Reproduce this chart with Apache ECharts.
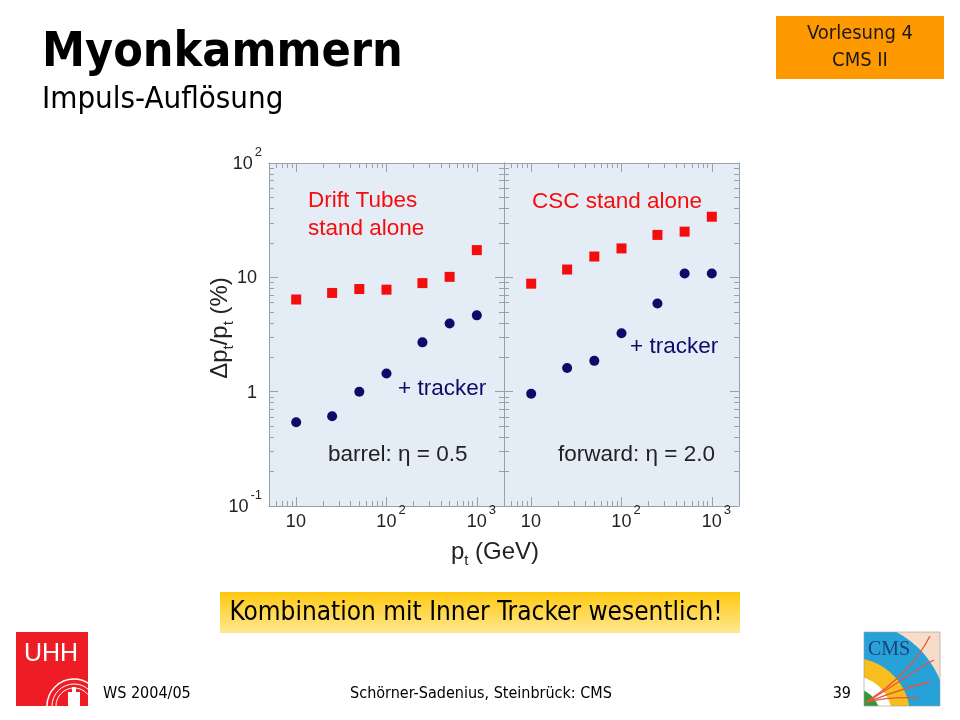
<!DOCTYPE html>
<html>
<head>
<meta charset="utf-8">
<script src="https://cdn.jsdelivr.net/npm/echarts@6/dist/echarts.min.js"></script>
<style>
html,body{margin:0;padding:0;background:#fff;}
#c{width:960px;height:720px;}
</style>
</head>
<body>
<div id="c"></div>
<script>
// ---- data ----
const ptValues = [10, 25, 50, 100, 250, 500, 1000];
const barrelStandalone = [6.4, 7.3, 7.9, 7.8, 8.9, 10.1, 17.3];
const barrelTracker = [0.54, 0.61, 1.0, 1.44, 2.7, 3.95, 4.65];
const forwardStandalone = [8.8, 11.7, 15.2, 17.9, 23.5, 25.1, 33.9];
const forwardTracker = [0.96, 1.61, 1.86, 3.24, 5.9, 10.8, 10.8];
const xRange = [5, 2000];
const yRange = [0.1, 100];

const pair = (xs, ys) => xs.map((x, i) => [x, ys[i]]);

const RED = '#f50d0d';
const NAVY = '#0b0b68';
const AXIS_GRAY = '#98a0a8';
const PLOT_BG = '#e4ecf5';
const FONT = 'Liberation Sans, Arial, sans-serif';
const SLIDE_FONT = 'DejaVu Sans Condensed, DejaVu Sans, sans-serif';

function powInfo(v) {
  const l = Math.log10(v);
  const e = Math.round(l);
  if (Math.abs(l - e) > 1e-6) return null;
  return e;
}
const labelRich = {
  b: {fontSize: 18, lineHeight: 20, verticalAlign: 'bottom', color: '#222', fontFamily: FONT},
  sup: {fontSize: 13, lineHeight: 13, verticalAlign: 'bottom', padding: [0, 0, 14, 2], color: '#222', fontFamily: FONT},
  sp: {fontSize: 13, width: 9, lineHeight: 13, verticalAlign: 'bottom', padding: [0, 0, 14, 0]},
  spb: {fontSize: 13, width: 5, lineHeight: 13, verticalAlign: 'bottom', padding: [0, 0, 14, 0]},
  sp2: {fontSize: 18, width: 5, lineHeight: 20, verticalAlign: 'bottom'}
};
function xLabel(v) {
  const e = powInfo(v);
  if (e === null) return '';
  if (e === 0) return '{spb| }{b|1}{sup| }';
  if (e === 1) return '{spb| }{b|10}{sup| }';
  return '{sp| }{b|10}{sup|' + e + '}';
}
function yLabel(v) {
  const e = powInfo(v);
  if (e === null) return '';
  if (e === 0) return '{b|1}{sp2| }';
  if (e === 1) return '{b|10}{sp2| }';
  return '{b|10}{sup|' + e + '}';
}

const common = {
  type: 'log', logBase: 10,
  axisLine: {show: true, lineStyle: {color: AXIS_GRAY, width: 1}},
  axisTick: {show: true, inside: true, length: 9, lineStyle: {color: AXIS_GRAY}},
  minorTick: {show: true, splitNumber: 9, length: 5, lineStyle: {color: AXIS_GRAY}},
  splitLine: {show: false},
  minorSplitLine: {show: false}
};
function xAx(grid, pos, labels) {
  return Object.assign({}, common, {
    gridIndex: grid, position: pos, min: xRange[0], max: xRange[1],
    axisLabel: {show: labels, formatter: xLabel, rich: labelRich, margin: 5,
      showMinLabel: false, showMaxLabel: false}
  });
}
function yAx(grid, pos, labels) {
  return Object.assign({}, common, {
    gridIndex: grid, position: pos, min: yRange[0], max: yRange[1],
    axisLabel: {show: labels, formatter: yLabel, rich: labelRich, margin: 7}
  });
}

// CMS logo bands: arc polygons clamped into the logo box
const LOGO = {x0: 864, y0: 632, x1: 940, y1: 706, cx: 852, cy: 716};
function bandPolygon(r) {
  const pts = [];
  for (let i = 0; i <= 60; i++) {
    const a = (-110 + i * 125 / 60) * Math.PI / 180;
    let px = LOGO.cx + r * Math.cos(a), py = LOGO.cy + r * Math.sin(a);
    px = Math.min(Math.max(px, LOGO.x0), LOGO.x1);
    py = Math.min(Math.max(py, LOGO.y0), LOGO.y1);
    pts.push([px, py]);
  }
  pts.push([LOGO.x0, LOGO.y1]);
  return pts;
}
const cmsBands = [[95, '#27a2d9'], [58, '#f7be1e'], [40, '#ffffff'], [28, '#2e9a3e']];

const sub = {
  b: {fontSize: 24, lineHeight: 28, verticalAlign: 'bottom', padding: [0, 0, 4, 0], fontFamily: FONT, fill: '#222'},
  s: {fontSize: 15, lineHeight: 15, verticalAlign: 'bottom', fontFamily: FONT, fill: '#222'}
};

const option = {
  backgroundColor: '#ffffff',
  animation: false,
  grid: [
    {left: 269, top: 163, width: 235, height: 343, show: true, backgroundColor: PLOT_BG, borderWidth: 0},
    {left: 504, top: 163, width: 235, height: 343, show: true, backgroundColor: PLOT_BG, borderWidth: 0}
  ],
  xAxis: [xAx(0, 'bottom', true), xAx(1, 'bottom', true), xAx(0, 'top', false), xAx(1, 'top', false)],
  yAxis: [yAx(0, 'left', true), yAx(1, 'left', false), yAx(0, 'right', false), yAx(1, 'right', false)],
  series: [
    {name: 'Drift Tubes stand alone', type: 'scatter', xAxisIndex: 0, yAxisIndex: 0,
      symbol: 'rect', symbolSize: 10, itemStyle: {color: RED, opacity: 1}, data: pair(ptValues, barrelStandalone)},
    {name: 'barrel + tracker', type: 'scatter', xAxisIndex: 0, yAxisIndex: 0,
      symbol: 'circle', symbolSize: 10, itemStyle: {color: NAVY, opacity: 1}, data: pair(ptValues, barrelTracker)},
    {name: 'CSC stand alone', type: 'scatter', xAxisIndex: 1, yAxisIndex: 1,
      symbol: 'rect', symbolSize: 10, itemStyle: {color: RED, opacity: 1}, data: pair(ptValues, forwardStandalone)},
    {name: 'forward + tracker', type: 'scatter', xAxisIndex: 1, yAxisIndex: 1,
      symbol: 'circle', symbolSize: 10, itemStyle: {color: NAVY, opacity: 1}, data: pair(ptValues, forwardTracker)}
  ],
  graphic: [
    // slide header
    {type: 'text', left: 42, top: 30, style: {text: 'Myonkammern', fontFamily: SLIDE_FONT, fontWeight: 'bold', fontSize: 48, fill: '#000'}},
    {type: 'text', left: 42, top: 84, style: {text: 'Impuls-Auflösung', fontFamily: SLIDE_FONT, fontSize: 31, fill: '#000'}},
    {type: 'rect', shape: {x: 776, y: 16, width: 168, height: 63}, style: {fill: '#ff9900'}},
    {type: 'text', x: 860, y: 47, style: {text: 'Vorlesung 4\nCMS II', align: 'center', verticalAlign: 'middle', lineHeight: 27, fontFamily: SLIDE_FONT, fontSize: 20, fill: '#1a1a1a'}},
    // in-plot annotations
    {type: 'text', x: 308, y: 215, style: {text: 'Drift Tubes\nstand alone', verticalAlign: 'middle', lineHeight: 28, fontFamily: FONT, fontSize: 22.5, fill: RED}},
    {type: 'text', x: 398, y: 389, style: {text: '+ tracker', verticalAlign: 'middle', fontFamily: FONT, fontSize: 22.5, fill: NAVY}},
    {type: 'text', x: 328, y: 455, style: {text: 'barrel: η = 0.5', verticalAlign: 'middle', fontFamily: FONT, fontSize: 22.5, fill: '#222'}},
    {type: 'text', x: 532, y: 202, style: {text: 'CSC stand alone', verticalAlign: 'middle', fontFamily: FONT, fontSize: 22.5, fill: RED}},
    {type: 'text', x: 630, y: 347, style: {text: '+ tracker', verticalAlign: 'middle', fontFamily: FONT, fontSize: 22.5, fill: NAVY}},
    {type: 'text', x: 558, y: 455, style: {text: 'forward: η = 2.0', verticalAlign: 'middle', fontFamily: FONT, fontSize: 22.5, fill: '#222'}},
    // axis titles
    {type: 'text', x: 222, y: 328, rotation: Math.PI / 2, style: {
      text: '{b|Δp}{s|t}{b|/p}{s|t}{b| (%)}', align: 'center', verticalAlign: 'middle', rich: sub}},
    {type: 'text', x: 495, y: 554, style: {
      text: '{b|p}{s|t}{b| (GeV)}', align: 'center', verticalAlign: 'middle', rich: sub}},
    // footer banner
    {type: 'rect', shape: {x: 220, y: 592, width: 520, height: 41}, style: {
      fill: {type: 'linear', x: 0, y: 0, x2: 0, y2: 1, colorStops: [{offset: 0, color: '#ffc80f'}, {offset: 1, color: '#ffe890'}]}}},
    {type: 'text', x: 476, y: 613, style: {text: 'Kombination mit Inner Tracker wesentlich!', align: 'center', verticalAlign: 'middle', fontFamily: SLIDE_FONT, fontSize: 26, fill: '#000'}},
    {type: 'text', x: 103, y: 694, style: {text: 'WS 2004/05', verticalAlign: 'middle', fontFamily: SLIDE_FONT, fontSize: 16, fill: '#000'}},
    {type: 'text', x: 481, y: 694, style: {text: 'Schörner-Sadenius, Steinbrück: CMS', align: 'center', verticalAlign: 'middle', fontFamily: SLIDE_FONT, fontSize: 16, fill: '#000'}},
    {type: 'text', x: 851, y: 694, style: {text: '39', align: 'right', verticalAlign: 'middle', fontFamily: SLIDE_FONT, fontSize: 16, fill: '#000'}},
    // UHH logo
    {type: 'rect', shape: {x: 16, y: 632, width: 72, height: 74}, style: {fill: '#ee1c25'}},
    {type: 'text', x: 24, y: 654, style: {text: 'UHH', verticalAlign: 'middle', fontFamily: FONT, fontSize: 25, fill: '#fff'}},
    {type: 'arc', shape: {cx: 74, cy: 706, r: 27, startAngle: Math.PI, endAngle: 5.33}, style: {stroke: '#fff', lineWidth: 1.5, fill: null}},
    {type: 'arc', shape: {cx: 74, cy: 706, r: 22, startAngle: Math.PI, endAngle: 5.45}, style: {stroke: '#fff', lineWidth: 1, fill: null}},
    {type: 'arc', shape: {cx: 74, cy: 706, r: 18, startAngle: Math.PI, endAngle: 5.6}, style: {stroke: '#fff', lineWidth: 1, fill: null}},
    {type: 'rect', shape: {x: 68, y: 692, width: 12, height: 14}, style: {fill: '#fff'}},
    {type: 'rect', shape: {x: 72, y: 687, width: 4, height: 5}, style: {fill: '#fff'}},
    // CMS logo
    {type: 'rect', shape: {x: 864, y: 632, width: 76, height: 74}, style: {fill: '#f7dcc8'}}
  ].concat(cmsBands.map(b => ({type: 'polygon', shape: {points: bandPolygon(b[0])}, style: {fill: b[1]}})))
   .concat([
    {type: 'text', x: 868, y: 650, style: {text: 'CMS', verticalAlign: 'middle', fontFamily: 'Liberation Serif, serif', fontSize: 20, fill: '#1d3f7a'}},
    {type: 'bezierCurve', shape: {x1: 866, y1: 702, x2: 930, y2: 636, cpx1: 895, cpy1: 684, cpx2: 918, cpy2: 660}, style: {stroke: '#e8553a', lineWidth: 1.3, fill: null}},
    {type: 'bezierCurve', shape: {x1: 866, y1: 702, x2: 934, y2: 660, cpx1: 892, cpy1: 688, cpx2: 914, cpy2: 670}, style: {stroke: '#e8553a', lineWidth: 1.3, fill: null}},
    {type: 'bezierCurve', shape: {x1: 866, y1: 702, x2: 930, y2: 682, cpx1: 890, cpy1: 694, cpx2: 910, cpy2: 686}, style: {stroke: '#e8553a', lineWidth: 1.3, fill: null}},
    {type: 'bezierCurve', shape: {x1: 866, y1: 702, x2: 918, y2: 698, cpx1: 884, cpy1: 698, cpx2: 900, cpy2: 697}, style: {stroke: '#e8553a', lineWidth: 1.3, fill: null}},
    {type: 'rect', shape: {x: 864, y: 632, width: 76, height: 74}, style: {fill: null, stroke: '#9a9a9a', lineWidth: 0.6}}
  ])
};

const chart = echarts.init(document.getElementById('c'), null, {renderer: 'canvas'});
chart.setOption(option);
</script>
</body>
</html>
